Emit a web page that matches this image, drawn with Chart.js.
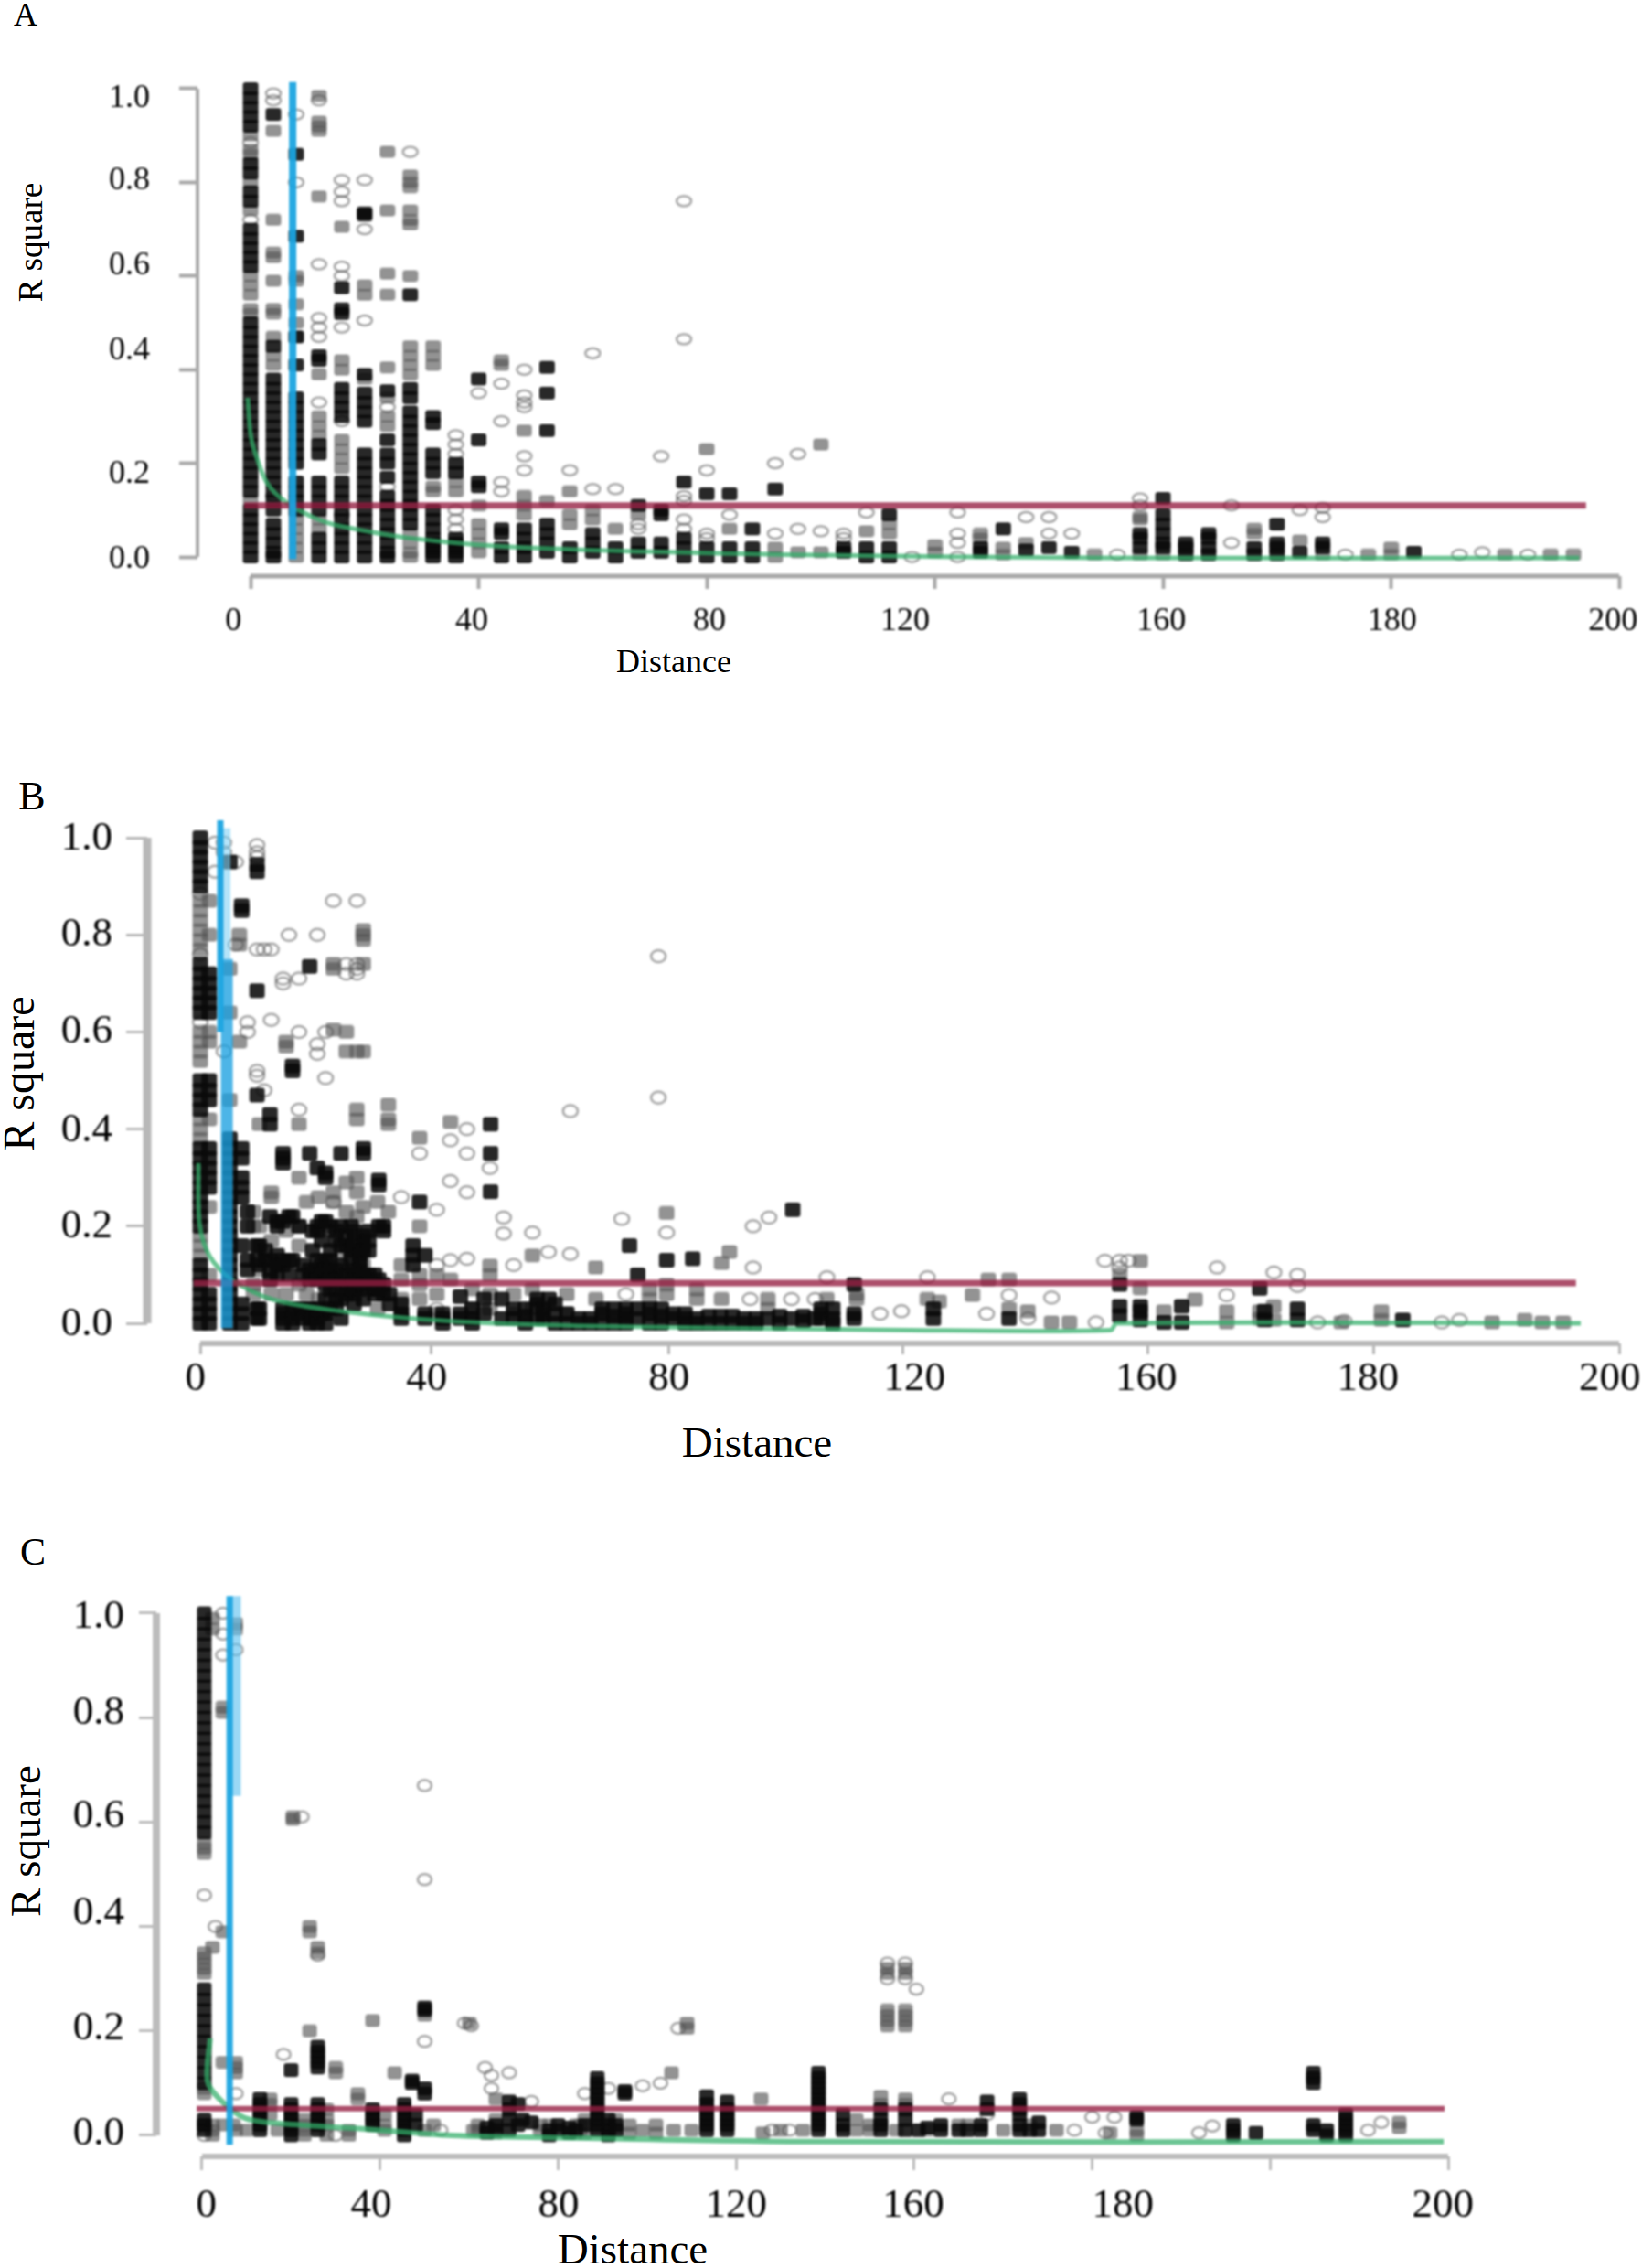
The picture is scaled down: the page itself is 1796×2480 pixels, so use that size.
<!DOCTYPE html>
<html><head><meta charset="utf-8">
<script src="https://cdn.jsdelivr.net/npm/chart.js@4/dist/chart.umd.min.js"></script>
<style>
html,body{margin:0;padding:0;background:#fff;width:1796px;height:2480px;overflow:hidden}
canvas{position:absolute;left:0;top:0;filter:blur(.8px)}
.t{position:absolute;font-family:"Liberation Serif",serif;color:#000;white-space:nowrap;transform:translate(-50%,-50%);line-height:1}
.r{transform:translate(-50%,-50%) rotate(-90deg)}
</style></head><body>
<div class="t" style="left:28px;top:16px;font-size:36px">A</div>
<div class="t r" style="left:33px;top:265px;font-size:37px">R square</div>
<div class="t" style="left:737px;top:723px;font-size:36px">Distance</div>
<div class="t" style="left:35px;top:871px;font-size:44px">B</div>
<div class="t r" style="left:21px;top:1174px;font-size:48px">R square</div>
<div class="t" style="left:828px;top:1577px;font-size:47px">Distance</div>
<div class="t" style="left:36px;top:1697px;font-size:42px">C</div>
<div class="t r" style="left:28px;top:2013px;font-size:47px">R square</div>
<div class="t" style="left:692px;top:2459px;font-size:47px">Distance</div>
<script>
const xLabels=['0','40','80','120','160','180','200'];
const yLabels=['1.0','0.8','0.6','0.4','0.2','0.0'];
const yTicks=[1,.8,.6,.4,.2,0];

// ---------- Panel A: [distance, r2, r2, ...]
const aDense=[
[0,1,.98,.96,.94,.92,.84,.82,.78,.76,.7,.68,.66,.64,.62,.5,.48,.46,.44,.42,.4,.38,.36,.34,.32,.3,.28,.26,.24,.22,.2,.18,.16,.14,.1,.08,.06,.04,.02,0],
[4,.945,.45,.38,.36,.34,.32,.3,.28,.26,.24,.22,.2,.18,.16,.14,.12,.1,.07,.05,.03,.01,0],
[8,.86,.685,.47,.41,.34,.32,.3,.28,.26,.24,.22,.2,.16,.14,.12,.1],
[12,.43,.42,.24,.22,.16,.14,.12,.1,.04,.02,0],
[16,.575,.53,.52,.36,.34,.32,.3,.16,.14,.12,.1,.08,.06,.04,.02,0],
[20,.735,.73,.39,.35,.33,.31,.29,.22,.2,.18,.16,.14,.12,.1,.08,.06,.04,.02,0],
[24,.355,.25,.22,.2,.17,.13,.11,.09,.07,.05,.03,.01,0],
[28,.56,.36,.34,.31,.29,.27,.25,.23,.21,.19,.17,.15,.13,.11,.09,.07],
[32,.3,.285,.22,.2,.18,.1,.08,.06,.04,.03,.02,.01,0],
[36,.2,.18,.04,.03,.02,.01,0],
[40,.38,.25,.16,.15],
[44,.06,.05,.02,0],
[48,.06,.04,.02,0],
[52,.405,.35,.27,.07,.05,.03,.01],
[56,.02,0],[60,.05,.03,.01],[64,.02,0],[68,.11,.03,.01],[72,.1,.09,.03,.01],
[76,.16,.04,.02,0],[80,.135,.02,0],[84,.135,.02,0],[88,.06,.02,0],[92,.145],
[104,.02,.01],[108,.02,0],[112,.09,.02,0],[128,.02,.01],[132,.06],[136,.015],[140,.02],[144,.01],
[156,.05,.04,.02],[160,.125,.09,.07,.05,.03,.02],[164,.03,.02,.005],[168,.05,.04,.02,.005],
[176,.02,.005],[180,.07,.03,.02,.005],[184,.01],[188,.03,.02],[204,.01]];
const aMid=[
[0,.9,.87,.86,.8,.74,.6,.58,.56,.53,.52,.12],
[4,.91,.72,.65,.64,.59,.53,.52,.47,.43,.41],
[8,.6,.59,.54,.5,.47,.08,.06,.04,.02,0],
[12,.985,.93,.92,.91,.77,.39,.3,.28,.26,.08,.06],
[16,.705,.42,.4,.25,.23,.21,.19],
[20,.58,.56,.38],
[24,.865,.74,.605,.56,.405,.34,.3,.28],
[28,.815,.8,.79,.74,.72,.71,.6,.45,.43,.41,.39,.05,.03,.01,0],
[32,.45,.43,.41,.15,.14],
[36,.16,.14],[40,.11,.07,.05,.03,.01],[44,.42,.41],[48,.27,.13,.11,.09],[52,.12],
[56,.14,.09,.07],[60,.1,.08],[64,.06],[68,.09],[80,.23],[84,.06],[92,.02,0],[96,.01],[100,.24,.01],
[108,.055],[112,.07,.05],[120,.025,.01],[128,.05,.04],[132,.02,.005],[136,.03],[148,.005],
[156,.085,.08,.005],[160,.005],[176,.06,.05],[184,.035],[188,.005],[196,.005],[200,.02,.005],[220,.005],[228,.005],[232,.005]];
const aLight=[
[0,.885,.72],[4,.99,.975,.13],[8,.945,.8],[12,.975,.625,.51,.49,.47,.33],
[16,.805,.78,.76,.62,.6,.49,.29,.09],[20,.805,.7,.505],[24,.32,.15],[28,.865],
[36,.26,.24,.22,.1,.08,.06],[40,.35],[44,.37,.29,.16,.14],[48,.4,.345,.33,.32,.215,.185],
[56,.185],[60,.435,.145],[64,.145],[68,.07,.06],[72,.215],[76,.76,.465,.13,.12,.08,.06],
[80,.185,.05,.04],[84,.09],[92,.2,.05],[96,.22,.06],[100,.055],[104,.05,.04],[108,.095],
[116,0],[124,.095,.05,.03,0],[136,.085],[140,.085,.05],[144,.05],[152,.005],[156,.125,.11],
[172,.11,.03],[184,.1],[188,.105,.085],[192,.005],[212,.005],[216,.01],[224,.005]];
const aX=[-.5,0,1,3,6.2,11.3,15,28.8,48,94,150,233];
const aY=[.34,.263,.215,.156,.117,.083,.068,.039,.02,.005,-.002,-.002];

// ---------- Panel B
const bDense=[
[0,1,.98,.96,.94,.92,.9,.74,.72,.7,.68,.66,.64,.5,.48,.46,.44,.36,.34,.32,.3,.28,.26,.24,.22,.2,.12,.1,.08,.06,.04,.02,0],
[1.5,.72,.7,.68,.66,.64,.5,.48,.46,.36,.34,.32,.3,.28,.06,.04,.02,0],
[5,.95,.38,.36,.34,.32,.3,.28,.26,.24,.22,.2,.18,.16,.14,.12,.1,.08,.06,.04,.02,0],
[7,.86,.85,.36,.34,.3,.28,.26,.16,.04,.02,0],
[8,.23,.2,.13,.11],[9.6,.945,.93,.685,.47,.16,.13,.03,.01],[10,.16,.12,.03,.01],[11,.15,.13],
[11.8,.43,.41,.22,.13,.11,.09],[13,.21,.2,.14,.12,.1],
[14,.35,.34,.33,.21,.13,.12,.03,.02,.01,0],[15,.22,.13,.1],
[15.6,.53,.52,.22,.13,.03,.01,0],[16.7,.2,.03,.02],[17.5,.12,.1,.03,.01],
[18.5,.735,.35,.11,.09,.03,.02,0],[19,.19,.15,.1,.02,.01],
[19.8,.32,.2,.19,.13,.11,.09,.03,.01,0],[20.5,.21,.17,.12,.1,.02],
[21.2,.31,.3,.21,.13,.11,.08,.05,.02,0],[22,.2,.15,.13,.11,.09,.07,.03],[23,.19,.17,.11,.09,.05,.03],
[23.8,.35,.2,.16,.12,.08,.05,.01],[24.7,.18,.16,.1,.08,.06],[25.5,.2,.15,.13,.1,.07],
[26,.19,.17,.16,.11,.09,.06,.04],[27,.14,.13,.11,.09,.07],
[27.6,.36,.35,.18,.16,.15,.1,.08,.05],[28.5,.19,.17,.15,.1,.08],[29.5,.1,.07,.06],
[30.2,.295,.285,.2,.09,.07],[31,.2,.19,.08,.06],
[32,.06,.04],[34,.04,.02,.01],[37.1,.25],[36,.16,.14,.12],[38,.14,.02,.01],[41,.02,.01,0],
[49.1,.41,.35,.271],[44,.055,.02,.01],[46,.03,.01,0],[48,.05,.02],[51,.05,.01],[53,.03,.01],[55,.03,.015,0],[57,.05,.04,.01],[58,.03,.02,.01],[59,.05],[60,.04,.02,0],
[62,.02,0],[64,.01,0],[66,.01,0],[68,.03,.02,0],[70,.03,.015,0],[72,.03,.02,.01,0],[72.6,.16],[74,.1,.03,.01],[76,.03,.02,0],[78,.03,.015,0],[78.9,.13],[80,.02,.01],[82,.02,.01,0],
[83.3,.133],[84,.01,0],[86,.015,0],[88,.015,0],[90,.015,0],[92,.01,0],[94,.01,0],[96,.01],[98,.015,0],[100,.01],[100.2,.234],[102,.015,.005],[104,.01],
[105,.03,.02,.01],[107,.03,.01,0],[110.6,.08,.02,.01],
[124,.03,.01],[136.8,.01],[155.5,.08,.035,.016],[159,.035,.025,.007],[163,.002],[166,.035,.002],
[179.2,.072],[180,.025,.007],[185.6,.03,.007],[203.4,.007]];
const bMid=[
[0,.87,.85,.83,.81,.79,.77,.6,.58,.56,.54,.42,.4,.38,.18,.16,.14],
[1.5,.87,.8,.6,.58,.42,.24,.1],
[5,.73,.64,.46],[6.6,.8,.58,.78],
[9,.23,.2,.08,.06],[10,.41,.11,.2],[12,.27,.26,.17,.06],[14.5,.58,.57,.19,.06],
[16.7,.41,.3,.2,.16,.08],[18,.25,.06],[20,.26,.05],[22.5,.74,.73,.605,.27,.25,.07],[24.7,.6,.56,.29,.23,.14],
[26.5,.56,.44,.42,.3,.27,.22],[27.6,.81,.8,.79,.74,.56,.24,.12],[31.8,.45,.42,.41,.23],[30,.25,.03],
[34,.12,.09,.05,.02],[37.1,.382,.2,.1,.08,.05],[40,.1,.06,.02],[42.3,.415,.09],[46,.07,.03],
[49,.119,.1,.06,.03],[53,.06,.02],[56.2,.14,.07,.03],[62,.06,.02],[66.9,.115,.05],[76,.07,.05],[78.9,.227,.08,.06],
[84,.07,.05],[88.2,.124,.05],[89.5,.147],[96,.05,.03],[106,.05],[111,.06,.05],
[123,.05],[125,.045],[130.6,.058],[133.3,.09],[136.8,.09,.03],[140,.025],[144,.002],[147,.002],
[155.5,.1],[159,.129,.072],[163,.025],[168.3,.049],[173.6,.025,.002],[179.2,.025,.01],[181.6,.035,.007],[193,.002],
[199.8,.025,.007],[218.5,.002],[224,.007],[227,.002],[230.5,.002]];
const bLight=[
[0,.885,.76,.62],[2.5,.93,.99],[4,.97,.99,.56],[6,.95,.78],[8,.62,.6],[9.6,.985,.97,.96,.77,.52,.51],[10.8,.77,.48],[12,.77,.625,.1],
[14,.71,.7],[15,.8],[16.7,.71,.6,.44],[19.8,.8,.575,.555],[21.2,.505,.6],[22.5,.87,.25],[24.7,.72,.74],[26.5,.87,.72,.74,.73],
[34,.26],[37.1,.35],[40,.234,.12,.03],[42.3,.377,.293,.13],[45.1,.4,.35,.27,.133],[51.3,.218,.185],[49,.32],[53,.12],
[56.2,.187],[58.9,.147],[62.6,.437,.143],[71.3,.215],[77.5,.756,.465],[78.9,.187],[72,.06],[93.5,.2,.115],[96.2,.218],
[93,.05],[100,.05],[104,.05],[106,.095],[118.6,.025],[115,.02],[123,.095],[133,.02],[136.8,.058],[140,.01],[144,.053],
[151.5,.002],[153,.129],[155.5,.129,.115],[157,.129],[172,.115],[173.6,.058],[181.6,.105],[185.6,.1,.077],[189,.002],[193.5,.005],
[210,.002],[213,.007]];
const bX=[-.3,-.1,1.6,5.2,12.3,23.8,41.6,63.8,120,154,155,233.5];
const bY=[.33,.204,.138,.091,.049,.025,.005,-.005,-.014,-.014,0,0];

// ---------- Panel C
const cDense=[
[.5,1,.98,.96,.94,.92,.9,.88,.86,.84,.82,.8,.78,.76,.74,.72,.7,.68,.66,.64,.62,.6,.58,.28,.26,.24,.22,.2,.18,.16,.14,.12,.1,.03,.02,.01],
[13,.07,.06,.05,.04,.03,.02,.01],[20,.125,.06,.05,.04,.03,.02,.01,0],[26,.17,.16,.15,.14,.13,.06,.05,.04,.03,.02,.01],
[38.3,.05,.04,.03,.02],[45.4,.06,.05,.04,.03,.02,.01,0],[47.2,.105,.1],[48,.04,.02],[50,.245,.24,.09,.08],
[64,.015,.005],[66,.02,.01],[69,.065,.05,.03,.01],[71,.06,.02],[72,.03],[74,.025],[78,.01,0],[80,.02,.01],[82.5,.015,.005],[84,.01],[86,.02],
[88.8,.11,.1,.09,.08,.07,.06,.05,.04,.03,.02,.01],[91.3,.03,.02,.01,0],[93,.02,.01],[95,.085,.08],
[113.4,.075,.06,.05,.04,.03,.02,.01],[118,.065,.05,.04,.03,.02,.01],
[138.5,.12,.11,.1,.09,.08,.07,.06,.05,.04,.03,.02,.01],
[144,.04,.02,.01],[152.5,.05,.03,.02,.01],[158,.05,.03,.01],[161,.01],[163,.015],[166,.02,.01],[170,.01],[172,.01],[175,.02,.01],[176.4,.065,.05],
[183.7,.07,.06,.05,.04,.02,.01],[186,.01],[188,.025,.01],[210,.035,.03],[231.7,.02,.01,0],[236.8,.005],
[249.7,.12,.11,.1,.02,.01],[252.7,.01,0],[257,.04,.03,.02,.01,0]];
const cMid=[
[.5,.56,.55,.54,.35,.34,.33,.32,.31,.09,.08],[2.3,.99,.97,.36,.02,.01,0],[4.7,.82,.81,.39,.14,.02],[7,.02],[7.6,.98,.97,.14,.13,.12,.01],[10,.01],
[15.3,.07,.06,.04],[17,.01],[20.4,.61,.605],[23,.03,.02,.01,0],[24.2,.4,.39,.2],[26,.36,.35],[28,.05,.03,.02,0],[30,.13,.12],[33,.01,0],[35,.08,.07],[38.3,.22],[41,.04,.02,.01],[43.3,.12],
[50,.23,.01],[52,.02],[60,.215],[61,.01],[62,.02,.01],[66,.07,.03,.005],[76,.02,.01],[78,.02],[84,.02,.005],[85,.02,.01],[86,.03,.005],[93,.03],[96,.02,.005],[99,.01],[102,.02,.005],[105.5,.12],[106,.01],[109,.215,.205],[110,.01],[125.6,.07],[126,.005],[130,.01],[135,.01],
[147,.03,.01],[150,.02,.01],[152.5,.075,.06],[154,.32,.31,.24,.23,.22,.21],[156,.01],[158,.32,.31,.24,.23,.22,.21,.07,.06],[163,.01],[170,.02],[172,.02],[180,.01],[186,.02],[192,.01],[204,.005],[210,.01,0],[269,.025,.015]];
const cLight=[
[.5,.46,0],[3,.4],[4.7,1,.96,.92],[7.6,.93,.08],[18.3,.155],[22.4,.61],[26,.345],[30,0],[50,.67,.49,.18],[53.6,.01],
[59,.215],[60.5,.21],[63.6,.13],[65,.115,.09],[69,.12],[74,.065],[86,.08],[91.3,.09],[99,.095],[103,.1],[107,.205],
[128,.01],[132,.01],[154,.33,.3],[158,.33,.3],[160.5,.28],[167.8,.07],[176.4,.04],[196,.01],[200,.035],[205,.035],
[203,.005],[224,.005],[227,.018],[262,.01],[265,.025]];
const cX=[1.8,1.2,4.1,10,20.6,37.1,56,84.3,139.5,279];
const cY=[.186,.104,.068,.032,.021,.012,0,-.005,-.012,-.012];

// ---------- helpers
const pts=rows=>rows.flatMap(([x,...v])=>v.map(y=>({x,y})));
const zip=(xs,ys)=>xs.map((x,i)=>({x,y:ys[i]}));
function ell(w,h,stroke,fill,lw){const c=document.createElement('canvas');c.width=w+4;c.height=h+4;const g=c.getContext('2d');
 g.beginPath();g.ellipse(c.width/2,c.height/2,w/2,h/2,0,0,Math.PI*2);if(fill){g.fillStyle=fill;g.fill();}g.strokeStyle=stroke;g.lineWidth=lw;g.stroke();return c;}
function blk(w,h,fill,halo){const c=document.createElement('canvas');c.width=w+2;c.height=h+2;const g=c.getContext('2d');
 g.beginPath();g.roundRect(1,1,w,h,3);g.fillStyle=fill;g.fill();if(halo){g.strokeStyle=halo;g.lineWidth=2;g.stroke();}return c;}
function panel(p){
 const c=document.createElement('canvas');c.width=1796;c.height=2480;document.body.appendChild(c);
 const marks=(data,style,order)=>({data:pts(data),pointStyle:style,pointRadius:6,showLine:false,clip:false,order});
 const line=(data,color,width,order,tension=0)=>({data,borderColor:color,borderWidth:width,pointRadius:0,showLine:true,clip:false,order,tension});
 const W=p.mw,H=p.mh;
 const ds=[
  line([{x:p.xmin,y:0},{x:p.xmin,y:1}],p.axisColor,p.yAxisW,9),
  line([{x:0,y:p.ymin},{x:p.xmax,y:p.ymin}],p.axisColor,p.xAxisW,9),
  marks(p.light,ell(W,H,'rgba(90,90,90,.55)',null,2.5),8),
  marks(p.mid,blk(W,H+1,'rgba(80,80,80,.62)','rgba(120,120,120,.35)'),7),
  marks(p.dense,blk(W+1,H+3,'rgba(10,10,10,.88)'),6),
  line(zip(p.gx,p.gy),'rgba(50,175,105,.72)',p.gw,3,.3),
  line(p.red,'rgba(150,30,65,.78)',p.rw,2),
  ...p.blue.map(b=>line(b.d,b.c,b.w,1))
 ];
 const font={family:'"Liberation Serif",serif',size:p.fs,lineHeight:1};
 new Chart(c,{type:'scatter',data:{datasets:ds},options:{
  responsive:false,animation:false,devicePixelRatio:1,
  layout:{padding:{left:0,top:p.top,right:1796-p.right,bottom:0}},
  plugins:{legend:{display:false},tooltip:{enabled:false}},
  scales:{
   x:{type:'linear',position:'bottom',weight:0,min:p.xmin,max:p.xmax,border:{display:false},
    grid:{drawOnChartArea:false,drawTicks:true,tickLength:p.xtl,tickWidth:p.tw,tickColor:p.axisColor},
    ticks:{display:false,autoSkip:false},afterBuildTicks:s=>{s.ticks=p.xTicks.map(value=>({value}));},
    afterFit:s=>{s.height=0;s.paddingLeft=s.paddingRight=0;}},
   xl:{type:'linear',position:'bottom',weight:1,min:p.xmin,max:p.xmax,border:{display:false},
    grid:{display:false,drawTicks:false},
    ticks:{autoSkip:false,maxRotation:0,color:'#000',font,padding:p.xpad,callback:(v,i)=>xLabels[i]},
    afterBuildTicks:s=>{s.ticks=p.xAnchors.map(value=>({value}));},
    afterFit:s=>{s.height=2480-p.bottom;s.paddingLeft=s.paddingRight=0;}},
   y:{type:'linear',position:'left',weight:0,min:p.ymin,max:p.ymax,border:{display:false},
    grid:{drawOnChartArea:false,drawTicks:true,tickLength:p.ytl,tickWidth:p.tw,tickColor:p.axisColor},
    ticks:{display:false,autoSkip:false},afterBuildTicks:s=>{s.ticks=yTicks.map(value=>({value}));},
    afterFit:s=>{s.width=0;s.paddingTop=s.paddingBottom=0;}},
   yl:{type:'linear',position:'left',weight:1,min:p.ymin,max:p.ymax,border:{display:false},
    grid:{display:false,drawTicks:false},
    ticks:{autoSkip:false,color:'#000',font,padding:p.ypad,callback:(v,i)=>yLabels[i]},
    afterBuildTicks:s=>{s.ticks=p.yAnchors.map(value=>({value}));},
    afterFit:s=>{s.width=p.left;s.paddingTop=s.paddingBottom=0;}}
  }}});
}
panel({left:216,right:1771,top:85,bottom:630,xmin:-9.3,xmax:240,ymin:-.041,ymax:1.0234,fs:36,mw:16,mh:11,
 xTicks:[0,40,80,120,160,200,240],xAnchors:[-3,38.8,80.5,114.8,159.7,200.2,238.9],yAnchors:[.98,.803,.621,.441,.176,-.004],
 xtl:14,ytl:20,tw:4,xpad:32,ypad:52,axisColor:'#a8a8a8',yAxisW:4,xAxisW:5,
 light:aLight,mid:aMid,dense:aDense,gx:aX,gy:aY,gw:5,
 red:[{x:-1.1,y:.11},{x:234.2,y:.11}],rw:7,
 blue:[{d:[{x:7.4,y:1.014},{x:7.4,y:-.005}],c:'rgba(27,164,224,.95)',w:8}]});
panel({left:161,right:1771,top:880,bottom:1469,xmin:-8.97,xmax:240,ymin:-.0414,ymax:1.0678,fs:45,mw:16,mh:13,
 xTicks:[0,39.1,79.2,118.9,160.3,198.5,240],xAnchors:[-.8,38.3,79.3,120.8,160,197.5,238.4],yAnchors:[.998,.8,.6,.397,.2,-.002],
 xtl:12,ytl:23,tw:3,xpad:17,ypad:38,axisColor:'#b8b8b8',yAxisW:9,xAxisW:6,
 light:bLight,mid:bMid,dense:bDense,gx:bX,gy:bY,gw:5,
 red:[{x:-1.1,y:.083},{x:232.7,y:.083}],rw:7,
 blue:[{d:[{x:3.4,y:1.036},{x:3.4,y:.6}],c:'rgba(27,164,224,.95)',w:7},
       {d:[{x:4.5,y:.75},{x:4.5,y:-.01}],c:'rgba(27,160,224,.78)',w:13},
       {d:[{x:4.2,y:1.02},{x:4.2,y:.75}],c:'rgba(130,210,245,.6)',w:12}]});
panel({left:171,right:1584,top:1730,bottom:2358,xmin:-10.27,xmax:280,ymin:-.0403,ymax:1.0595,fs:45,mw:15,mh:12,
 xTicks:[0,40,80,120,160,200,240,280],xAnchors:[1,38,80.1,120,159.8,206.9,278.8],yAnchors:[.993,.808,.61,.426,.205,.004],
 xtl:15,ytl:19,tw:3,xpad:32,ypad:35,axisColor:'#bcbcbc',yAxisW:8,xAxisW:6,
 light:cLight,mid:cMid,dense:cDense,gx:cX,gy:cY,gw:6,
 red:[{x:-1.2,y:.051},{x:279.2,y:.051}],rw:6,
 blue:[{d:[{x:6.2,y:1.033},{x:6.2,y:-.018}],c:'rgba(27,164,224,.95)',w:7},
       {d:[{x:7.6,y:1.033},{x:7.6,y:.65}],c:'rgba(100,195,240,.65)',w:11}]});
</script>
</body></html>
